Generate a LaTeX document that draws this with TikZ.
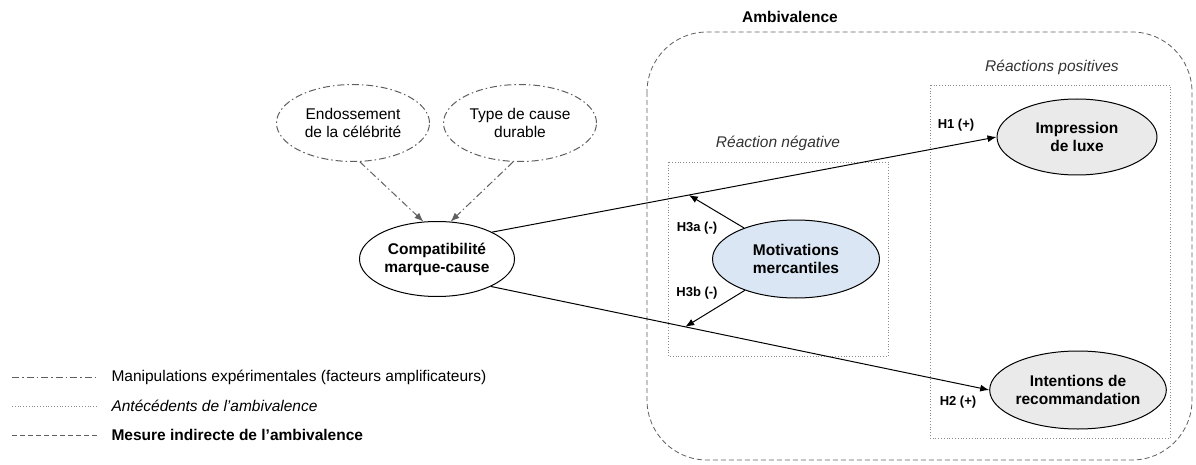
\documentclass[tikz,border=0pt]{standalone}
\usepackage{fontspec}
\setmainfont{Liberation Sans}
\usetikzlibrary{arrows.meta,shapes.geometric}
\usepackage{xcolor}
\definecolor{bluefill}{RGB}{218,230,243}
\definecolor{grayfill}{RGB}{234,234,234}
\definecolor{linegray}{RGB}{95,95,95}
\definecolor{dotgray}{RGB}{140,140,140}
\begin{document}
\begin{tikzpicture}[x=1pt,y=-1pt]

		\tikzset{construct/.style = {shape=ellipse,draw,line width=1pt,inner sep=0pt,align=center,font=\fontsize{15.5}{18}\selectfont\bfseries}}
		\tikzset{factor/.style = {shape=ellipse,draw=linegray,line width=1pt,dash pattern=on 7pt off 3pt on 1.5pt off 3pt,inner sep=0pt,align=center,font=\fontsize{15.5}{18}\selectfont}}
		\tikzset{hypo/.style = {-{Latex[length=9pt,width=7pt]},line width=1pt}}
		\tikzset{manip/.style = {linegray,line width=1pt,dash pattern=on 7pt off 3pt on 1.5pt off 3pt}}
		\tikzset{zone/.style = {draw=dotgray,thick,dotted}}
		\tikzset{ambi/.style = {draw=linegray,thick,dash pattern=on 5pt off 3pt}}
		\tikzset{hlabel/.style = {font=\fontsize{13}{15}\selectfont\bfseries}}
		\tikzset{zlabel/.style = {font=\fontsize{15.5}{18}\selectfont\itshape,text=black!80}}
		\useasboundingbox (0,0) rectangle (1196,465);
		%frames
		\draw[ambi,rounded corners=60pt] (647,32) rectangle (1192,460);
		\node[font=\fontsize{15.5}{18}\selectfont\bfseries] (ambtitle) at (790,17) {Ambivalence};
		\draw[zone] (668,162) rectangle (888,356);
		\node[zlabel] (negtitle) at (778,143) {Réaction négative};
		\draw[zone] (930,85) rectangle (1170,438);
		\node[zlabel] (postitle) at (1052,67) {Réactions positives};
		%nodes
		\node[factor,minimum width=153pt,minimum height=77pt] (endo) at (353,123) {Endossement\\de la célébrité};
		\node[factor,minimum width=153pt,minimum height=77pt] (type) at (520,123) {Type de cause\\durable};
		\node[construct,fill=white,minimum width=155pt,minimum height=75pt] (comp) at (437,259) {Compatibilité\\marque-cause};
		\node[construct,fill=bluefill,minimum width=167pt,minimum height=78pt] (mot) at (796,259) {Motivations\\mercantiles};
		\node[construct,fill=grayfill,minimum width=160pt,minimum height=76pt] (imp) at (1077,137) {Impression\\de luxe};
		\node[construct,fill=grayfill,minimum width=165pt,minimum height=78pt] (int) at (1078,390) {Intentions de\\recommandation};
		%edges
		\draw[manip,-{Latex[length=9pt,width=7pt]}] (endo.-80) to (comp.110);
		\draw[manip,-{Latex[length=9pt,width=7pt]}] (type.-100) to (comp.70);
		\draw[hypo] (comp.26) to coordinate[pos=0.39] (onh1) (imp.west);
		\draw[hypo] (comp.-27) to coordinate[pos=0.39] (onh2) (int.west);
		\draw[hypo] (mot) to (onh1);
		\draw[hypo] (mot) to (onh2);
		%labels
		\node[hlabel] (h1) at (956,125) {H1 (+)};
		\node[hlabel] (h2) at (958,402) {H2 (+)};
		\node[hlabel] (h3a) at (697,228) {H3a (-)};
		\node[hlabel] (h3b) at (697,293) {H3b (-)};
		%legend
		\coordinate (la1) at (12,377); \coordinate (la2) at (97,377);
		\coordinate (lb1) at (12,406); \coordinate (lb2) at (97,406);
		\coordinate (lc1) at (12,435); \coordinate (lc2) at (97,435);
		\draw[manip] (la1) -- (la2);
		\draw[zone] (lb1) -- (lb2);
		\draw[ambi] (lc1) -- (lc2);
		\node[anchor=west,font=\fontsize{15.5}{18}\selectfont] (lega) at (108,377) {Manipulations expérimentales (facteurs amplificateurs)};
		\node[anchor=west,font=\fontsize{15.5}{18}\selectfont\itshape] (legb) at (108,406) {Antécédents de l’ambivalence};
		\node[anchor=west,font=\fontsize{15.5}{18}\selectfont\bfseries] (legc) at (108,435) {Mesure indirecte de l’ambivalence};
		\end{tikzpicture}
\end{document}
